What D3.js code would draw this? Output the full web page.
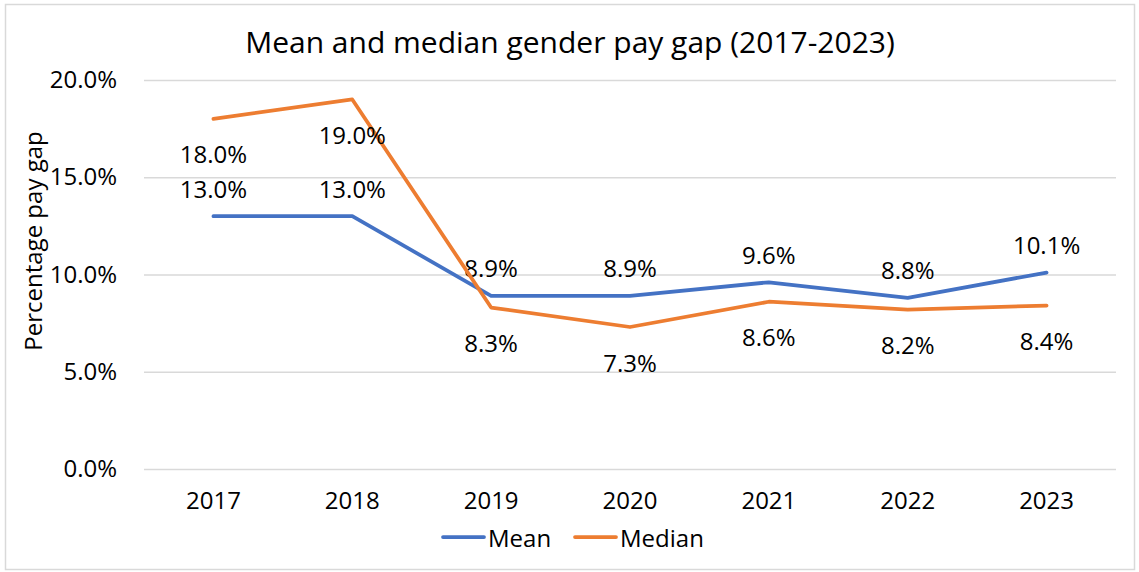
<!DOCTYPE html>
<html>
<head>
<meta charset="utf-8">
<script src="https://cdn.jsdelivr.net/npm/d3@7"></script>
<style>
  body { margin: 0; background: #fff; }
  text { font-family: "Open Sans", "Liberation Sans", sans-serif; fill: #000; }
</style>
</head>
<body>
<svg id="chart" width="1139" height="572"></svg>
<script>
// values
var years = ["2017", "2018", "2019", "2020", "2021", "2022", "2023"]
var meanGap = [13.0, 13.0, 8.9, 8.9, 9.6, 8.8, 10.1]
var medianGap = [18.0, 19.0, 8.3, 7.3, 8.6, 8.2, 8.4]
var yTicks = [0, 5, 10, 15, 20]

var series = [
	{ name: "Mean", values: meanGap, color: "#4472C4", labelPos: "above" },
	{ name: "Median", values: medianGap, color: "#ED7D31", labelPos: "below" }
]

var plot = { left: 144, right: 1116, top: 80, bottom: 469 }
var fontSize = "24px"

var svg = d3.select("#chart")

// chart border
svg.append("rect")
	.attr("x", 5.5).attr("y", 4.5)
	.attr("width", 1129).attr("height", 565)
	.attr("fill", "#fff")
	.attr("stroke", "#D9D9D9")
	.attr("stroke-width", 1.5)

var x = d3.scaleBand()
	.domain(years)
	.range([plot.left, plot.right])

var y = d3.scaleLinear()
	.domain([0, 20])
	.range([plot.bottom, plot.top])

// gridlines + y axis labels
var yAxis = d3.axisLeft(y)
	.tickValues(yTicks)
	.tickSize(-(plot.right - plot.left))
	.tickPadding(27)
	.tickFormat(function(d) { return d.toFixed(1) + "%" })

svg.append("g")
	.attr("class", "y-axis")
	.attr("transform", "translate(" + plot.left + ",0)")
	.call(yAxis)
	.call(function(g) {
		g.select(".domain").remove()
		g.selectAll(".tick line").attr("stroke", "#D9D9D9").attr("stroke-width", 1.5)
		g.selectAll(".tick text")
			.attr("font-size", fontSize)
			.attr("font-family", "\"Open Sans\", sans-serif")
			.attr("fill", "#000")
	})

// x axis labels
var xAxis = d3.axisBottom(x)
	.tickSize(0)
	.tickPadding(23)

svg.append("g")
	.attr("class", "x-axis")
	.attr("transform", "translate(0," + plot.bottom + ")")
	.call(xAxis)
	.call(function(g) {
		g.select(".domain").remove()
		g.selectAll(".tick text")
			.attr("font-size", fontSize)
			.attr("font-family", "\"Open Sans\", sans-serif")
			.attr("fill", "#000")
	})

var line = d3.line()
	.x(function(d, i) { return x(years[i]) + x.bandwidth() / 2 })
	.y(function(d) { return y(d) })

series.forEach(function(s) {
	svg.append("path")
		.datum(s.values)
		.attr("fill", "none")
		.attr("stroke", s.color)
		.attr("stroke-width", 3.75)
		.attr("stroke-linejoin", "round")
		.attr("stroke-linecap", "round")
		.attr("d", line)

	svg.selectAll(".lbl-" + s.name)
		.data(s.values)
		.enter().append("text")
		.attr("class", "lbl-" + s.name)
		.attr("x", function(d, i) { return x(years[i]) + x.bandwidth() / 2 })
		.attr("y", function(d) { return s.labelPos == "above" ? y(d) - 28 : y(d) + 35 })
		.attr("text-anchor", "middle")
		.attr("dominant-baseline", "central")
		.attr("font-size", fontSize)
		.text(function(d) { return d.toFixed(1) + "%" })
})

// title
svg.append("text")
	.attr("x", 570)
	.attr("y", 53)
	.attr("text-anchor", "middle")
	.attr("font-size", "30px")
	.text("Mean and median gender pay gap (2017-2023)")

// y axis title
svg.append("text")
	.attr("transform", "translate(32,241) rotate(-90)")
	.attr("text-anchor", "middle")
	.attr("dominant-baseline", "central")
	.attr("font-size", fontSize)
	.text("Percentage pay gap")

// legend
var legend = svg.append("g").attr("class", "legend")
var legendX = [443, 575]
series.forEach(function(s, i) {
	var g = legend.append("g").attr("transform", "translate(" + legendX[i] + ",537)")
	g.append("line")
		.attr("x1", 0).attr("x2", 41)
		.attr("stroke", s.color)
		.attr("stroke-width", 3.75)
		.attr("stroke-linecap", "round")
	g.append("text")
		.attr("x", 45)
		.attr("y", 0)
		.attr("dominant-baseline", "central")
		.attr("font-size", fontSize)
		.text(s.name)
})
</script>
</body>
</html>
